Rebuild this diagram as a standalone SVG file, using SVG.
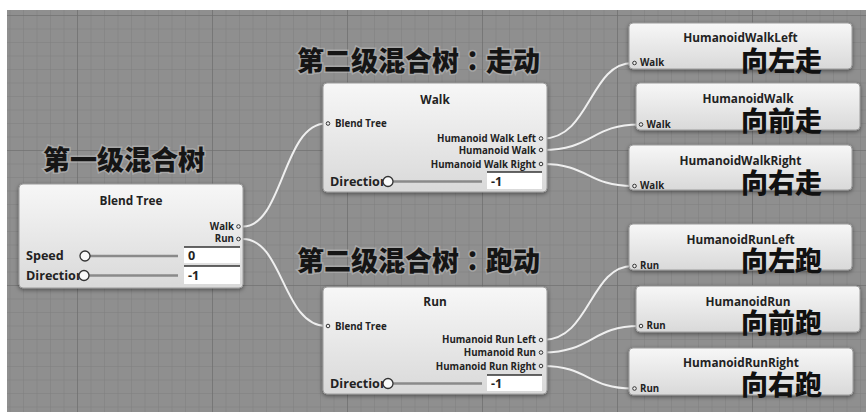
<svg xmlns="http://www.w3.org/2000/svg" width="866" height="412" viewBox="0 0 866 412">
<style>
.node{fill:url(#ng);stroke:#9a9a9a;stroke-width:1;filter:url(#sh)}
.title{font-family:"Open Sans","DejaVu Sans",sans-serif;font-weight:700;font-size:11.8px;fill:#222;text-anchor:middle}
.port{font-family:"Open Sans","DejaVu Sans",sans-serif;font-weight:700;font-size:9.7px;fill:#222}
.out{text-anchor:end}
.lbl{font-family:"Open Sans","DejaVu Sans",sans-serif;font-weight:700;font-size:12.6px;fill:#222}
.pc{fill:#eee;stroke:#333;stroke-width:1}
.knob{fill:#fafafa;stroke:#333;stroke-width:1.3}
.groove{stroke:#8a8a8a;stroke-width:2.5}
.vbox{fill:#fff}
.vtop{stroke:#333;stroke-width:1.5}
.cjk{font-family:"Noto Sans CJK SC",sans-serif;font-weight:900;font-size:27px;fill:#111}
.head{font-family:"Noto Sans CJK SC",sans-serif;font-weight:900;font-size:27px;fill:#151515;stroke:#bdbdbd;stroke-width:3;stroke-opacity:0.55;paint-order:stroke}
.colon{font-family:"Noto Sans CJK TC",sans-serif}
.wire{fill:none;stroke:#efefef;stroke-width:2}
</style>
<defs>
<linearGradient id="ng" x1="0" y1="0" x2="0" y2="1">
<stop offset="0" stop-color="#f7f7f7"/>
<stop offset="1" stop-color="#d9d9d9"/>
</linearGradient>
<pattern id="minor" patternUnits="userSpaceOnUse" x="9.5" y="15" width="13.5" height="13.5">
<path d="M0 0V13.5M0 0H13.5" stroke="#7f7f7f" stroke-width="1" fill="none"/>
</pattern>
<pattern id="major" patternUnits="userSpaceOnUse" x="77" y="15" width="135" height="135">
<path d="M0 0V135M0 0H135" stroke="#6c6c6c" stroke-width="1.2" fill="none"/>
</pattern>
<filter id="sh" x="-10%" y="-20%" width="120%" height="150%">
<feDropShadow dx="0" dy="1.5" stdDeviation="2" flood-color="#000" flood-opacity="0.45"/>
</filter>
</defs>
<rect x="0" y="0" width="866" height="412" fill="#fff"/>
<rect x="7" y="10" width="859" height="402" fill="#8f8f8f"/>
<rect x="7" y="10" width="859" height="402" fill="url(#minor)"/>
<rect x="7" y="10" width="859" height="402" fill="url(#major)"/>

<g id="connectors">
<path class="wire" d="M243,226.5 C283,226.5 283,123.5 326,123.5"/>
<path class="wire" d="M243,239 C283,239 283,326 326,326"/>
<path class="wire" d="M543,138.5 C590,138.5 590,63 632.5,63"/>
<path class="wire" d="M543,150 C592,150 592,124.5 639,124.5"/>
<path class="wire" d="M543,164 C588,164 588,186 632.5,186"/>
<path class="wire" d="M543,340 C590,340 590,266 632.5,266"/>
<path class="wire" d="M543,352.5 C592,352.5 592,326 639,326"/>
<path class="wire" d="M543,366 C588,366 588,388.5 632.5,388.5"/>
</g>

<g id="heading-1"><text class="head" x="43" y="169.5">第一级混合树</text></g>
<g id="heading-2a"><text class="head" x="297" y="71">第二级混合树<tspan class="colon">：</tspan>走动</text></g>
<g id="heading-2b"><text class="head" x="297" y="271">第二级混合树<tspan class="colon">：</tspan>跑动</text></g>

<g id="blend-tree">
<rect class="node" x="19" y="184" width="224" height="104" rx="4"/>
<text class="title" x="131" y="205">Blend Tree</text>
<text class="port out" x="234" y="229.5">Walk</text>
<circle class="pc" cx="238.5" cy="226.5" r="1.8"/>
<text class="port out" x="234" y="242">Run</text>
<circle class="pc" cx="238.5" cy="239" r="1.8"/>
<text class="lbl" x="26" y="260">Speed</text>
<line class="groove" x1="88" y1="256" x2="178" y2="256"/>
<circle class="knob" cx="85" cy="256" r="5"/>
<rect class="vbox" x="184" y="247" width="56" height="16"/>
<line class="vtop" x1="184" y1="247" x2="240" y2="247"/>
<text class="lbl" x="188" y="260">0</text>
<text class="lbl" x="26" y="280">Direction</text>
<line class="groove" x1="86" y1="275.5" x2="178" y2="275.5"/>
<circle class="knob" cx="84" cy="275.5" r="5"/>
<rect class="vbox" x="184" y="266" width="56" height="18"/>
<line class="vtop" x1="184" y1="266" x2="240" y2="266"/>
<text class="lbl" x="188" y="280">-1</text>
</g>

<g id="walk">
<rect class="node" x="323" y="83" width="224" height="109" rx="4"/>
<text class="title" x="435" y="104">Walk</text>
<circle class="pc" cx="328" cy="123.5" r="1.8"/>
<text class="port" x="335" y="127">Blend Tree</text>
<text class="port out" x="536" y="141.5">Humanoid Walk Left</text>
<circle class="pc" cx="541" cy="138.5" r="1.8"/>
<text class="port out" x="536" y="153.5">Humanoid Walk</text>
<circle class="pc" cx="541" cy="150" r="1.8"/>
<text class="port out" x="536" y="167.5">Humanoid Walk Right</text>
<circle class="pc" cx="541" cy="164" r="1.8"/>
<text class="lbl" x="330" y="186">Direction</text>
<line class="groove" x1="392" y1="181.5" x2="482" y2="181.5"/>
<circle class="knob" cx="388" cy="181.5" r="5"/>
<rect class="vbox" x="487" y="172" width="55" height="17"/>
<line class="vtop" x1="487" y1="172" x2="542" y2="172"/>
<text class="lbl" x="491" y="186">-1</text>
</g>

<g id="run">
<rect class="node" x="323" y="287" width="224" height="107" rx="4"/>
<text class="title" x="435" y="306">Run</text>
<circle class="pc" cx="328" cy="326" r="1.8"/>
<text class="port" x="335" y="329.5">Blend Tree</text>
<text class="port out" x="536" y="343">Humanoid Run Left</text>
<circle class="pc" cx="541" cy="340" r="1.8"/>
<text class="port out" x="536" y="356">Humanoid Run</text>
<circle class="pc" cx="541" cy="352.5" r="1.8"/>
<text class="port out" x="536" y="369.5">Humanoid Run Right</text>
<circle class="pc" cx="541" cy="366" r="1.8"/>
<text class="lbl" x="330" y="388">Direction</text>
<line class="groove" x1="392" y1="383.5" x2="482" y2="383.5"/>
<circle class="knob" cx="388" cy="383.5" r="5"/>
<rect class="vbox" x="487" y="375" width="55" height="16"/>
<line class="vtop" x1="487" y1="375" x2="542" y2="375"/>
<text class="lbl" x="491" y="388">-1</text>
</g>

<g id="humanoid-walk-left">
<rect class="node" x="629" y="23" width="223" height="46" rx="4"/>
<text class="title" x="740.5" y="42">HumanoidWalkLeft</text>
<circle class="pc" cx="634.5" cy="63" r="1.8"/>
<text class="port" x="640" y="66">Walk</text>
<text class="cjk" x="741" y="71">向左走</text>
</g>
<g id="humanoid-walk">
<rect class="node" x="636" y="83" width="224" height="47" rx="4"/>
<text class="title" x="748" y="103">HumanoidWalk</text>
<circle class="pc" cx="641" cy="124.5" r="1.8"/>
<text class="port" x="646.5" y="127.5">Walk</text>
<text class="cjk" x="741" y="131">向前走</text>
</g>
<g id="humanoid-walk-right">
<rect class="node" x="629" y="145" width="223" height="45" rx="4"/>
<text class="title" x="740.5" y="164.5">HumanoidWalkRight</text>
<circle class="pc" cx="634.5" cy="186" r="1.8"/>
<text class="port" x="640" y="189">Walk</text>
<text class="cjk" x="741" y="193">向右走</text>
</g>
<g id="humanoid-run-left">
<rect class="node" x="629" y="224" width="223" height="46" rx="4"/>
<text class="title" x="740.5" y="244">HumanoidRunLeft</text>
<circle class="pc" cx="634.5" cy="266" r="1.8"/>
<text class="port" x="640" y="269">Run</text>
<text class="cjk" x="741" y="271">向左跑</text>
</g>
<g id="humanoid-run">
<rect class="node" x="636" y="286" width="224" height="46" rx="4"/>
<text class="title" x="748" y="306">HumanoidRun</text>
<circle class="pc" cx="641" cy="326" r="1.8"/>
<text class="port" x="646.5" y="329">Run</text>
<text class="cjk" x="741" y="333">向前跑</text>
</g>
<g id="humanoid-run-right">
<rect class="node" x="629" y="348" width="224" height="47" rx="4"/>
<text class="title" x="741" y="367">HumanoidRunRight</text>
<circle class="pc" cx="634.5" cy="388.5" r="1.8"/>
<text class="port" x="640" y="391.5">Run</text>
<text class="cjk" x="741" y="394.5">向右跑</text>
</g>
</svg>
